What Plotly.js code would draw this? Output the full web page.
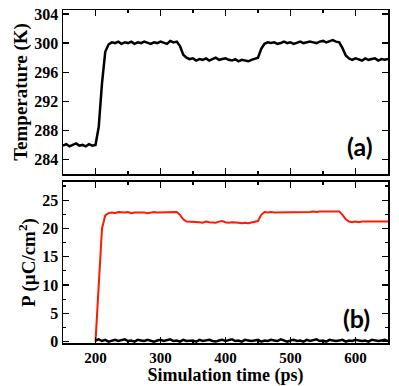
<!DOCTYPE html>
<html>
<head>
<meta charset="utf-8">
<script src="https://cdn.plot.ly/plotly-3.0.1.min.js"></script>
<style>
    html, body { margin: 0; padding: 0; background: #fff; }
    #chart { width: 399px; height: 386px; }
</style>
</head>
<body>
<div id="chart"></div>
<script>
// Simulation time (ps) for the temperature curve, one sample every 5 ps
const tempTime = [];
for (let t = 150; t <= 650; t += 5) tempTime.push(t);

// Temperature (K)
const temperature = [
    285.9, 286.1, 285.8, 286.0, 286.2, 285.9, 286.0, 285.8, 286.1, 285.9,
    286.0, 288.5, 294.5, 298.8, 299.8, 300.1,
    300.0, 300.2, 299.9, 300.1, 300.0, 300.2, 299.9, 300.1, 300.0, 300.2,
    300.0, 299.9, 300.1, 300.0, 300.2, 300.1, 299.9, 300.3, 300.1,
    300.2, 299.6, 298.4, 298.0,
    297.8, 297.9, 297.6, 297.8, 297.7, 297.9, 297.6, 297.8, 298.0, 297.7,
    297.8, 297.9, 297.7, 297.6, 297.8, 297.5, 297.7, 297.6, 297.5, 297.7, 297.8,
    298.0, 299.2, 299.9, 300.1,
    300.0, 300.1, 299.9, 300.0, 300.2, 300.0, 300.1, 299.9, 300.1, 300.2,
    300.0, 300.1, 300.2, 300.1, 300.0, 300.2, 300.3, 300.1, 300.2, 300.4, 300.2,
    300.1, 299.3, 298.3, 297.9,
    297.7, 297.9, 297.8, 297.6, 297.9, 297.7, 297.8, 297.9, 297.6, 297.8, 297.7, 297.8
];

// Simulation time (ps) for the polarization curves
const polTime = [];
for (let t = 200; t <= 650; t += 5) polTime.push(t);

// Polarization P (µC/cm²), red curve of panel (b)
const polarization = [
    0.0, 11.0, 20.0, 22.3, 22.7,
    22.8, 22.7, 22.9, 22.8, 22.8, 22.9, 22.7, 22.8, 22.8, 22.9,
    22.8, 22.7, 22.8, 22.9, 22.8, 22.8, 22.9, 22.8, 22.9, 22.8,
    22.9, 22.4, 21.6, 21.2,
    21.2, 21.1, 21.2, 21.1, 21.0, 21.2, 21.1, 21.1, 21.0, 21.2,
    21.3, 21.1, 21.0, 21.1, 21.1, 21.0, 20.9, 21.0, 20.9, 21.0, 21.1,
    21.3, 22.4, 22.9,
    22.8, 22.9, 22.8, 22.8, 22.9, 22.8, 22.9, 22.8, 22.8, 22.9,
    22.9, 22.8, 22.9, 22.9, 23.0, 22.9, 23.0, 23.0, 22.9, 23.0, 23.0, 22.9, 23.0,
    22.4, 21.6, 21.2,
    21.1, 21.2, 21.1, 21.2, 21.2, 21.1, 21.2, 21.1, 21.2, 21.2, 21.1, 21.2
];

// Other polarization component, black curve near zero
const polarizationOther = [
    0.2, 0.4, 0.1, 0.3, 0.0, 0.2, 0.3, 0.1, 0.2, 0.4,
    0.1, 0.2, 0.0, 0.3, 0.2, 0.1, 0.3, 0.2, 0.0, 0.2,
    0.3, 0.1, 0.2, 0.4, 0.1, 0.2, 0.0, 0.3, 0.1, 0.2,
    0.2, 0.0, 0.3, 0.1, 0.2, 0.3, 0.1, 0.0, 0.2, 0.3,
    0.1, 0.2, 0.4, 0.1, 0.2, 0.0, 0.3, 0.2, 0.1, 0.2,
    0.3, 0.0, 0.2, 0.1, 0.3, 0.2, 0.1, 0.4, 0.2, 0.0,
    0.2, 0.3, 0.1, 0.2, 0.0, 0.3, 0.1, 0.2, 0.4, 0.1,
    0.2, 0.0, 0.3, 0.2, 0.1, 0.2, 0.3, 0.0, 0.2, 0.1,
    0.3, 0.2, 0.1, 0.2, 0.0, 0.3, 0.2, 0.1, 0.2, 0.3,
    0.1
];

const tempTicks = [284, 288, 292, 296, 300, 304];
const polTicks = [0, 5, 10, 15, 20, 25];
const timeTicks = [200, 300, 400, 500, 600];

/**
 * Draws the two stacked panels
 */
function drawChart() {
    const serif = { family: 'Liberation Serif, Times New Roman, serif', color: '#000', weight: 'bold' };

    const traces = [
        {
            x: tempTime,
            y: temperature,
            mode: 'lines',
            line: { color: '#000', width: 2.5 },
            xaxis: 'x',
            yaxis: 'y',
            showlegend: false
        },
        {
            x: polTime,
            y: polarization,
            mode: 'lines',
            line: { color: '#ff1a00', width: 2 },
            xaxis: 'x2',
            yaxis: 'y2',
            showlegend: false
        },
        {
            x: polTime,
            y: polarizationOther,
            mode: 'lines',
            line: { color: '#000', width: 2.5 },
            xaxis: 'x2',
            yaxis: 'y2',
            showlegend: false
        }
    ];

    // Common frame style: box with inside ticks on every side
    const frame = {
        showline: true,
        linecolor: '#000',
        linewidth: 1.5,
        mirror: 'ticks',
        ticks: 'inside',
        ticklen: 6,
        tickwidth: 1.2,
        tickcolor: '#000',
        showgrid: false,
        zeroline: false,
        tickfont: Object.assign({ size: 16 }, serif)
    };

    const layout = {
        width: 399,
        height: 386,
        margin: { l: 63, r: 11, t: 10, b: 43 },
        paper_bgcolor: '#fff',
        plot_bgcolor: '#fff',
        xaxis: Object.assign({}, frame, {
            domain: [0, 1],
            anchor: 'y',
            range: [150, 650],
            tickvals: timeTicks,
            showticklabels: false,
            minor: { ticks: 'inside', ticklen: 3, dtick: 50, tick0: 150, tickcolor: '#000' }
        }),
        yaxis: Object.assign({}, frame, {
            domain: [0.5075, 1],
            anchor: 'x',
            range: [282, 304.55],
            tickvals: tempTicks,
            title: { text: 'Temperature (K)', font: Object.assign({ size: 19 }, serif), standoff: 1 }
        }),
        xaxis2: Object.assign({}, frame, {
            domain: [0, 1],
            anchor: 'y2',
            range: [150, 650],
            tickvals: timeTicks,
            tickfont: Object.assign({ size: 15 }, serif),
            minor: { ticks: 'inside', ticklen: 3, dtick: 50, tick0: 150, tickcolor: '#000' },
            title: { text: 'Simulation time (ps)', font: Object.assign({ size: 18 }, serif), standoff: 0 }
        }),
        yaxis2: Object.assign({}, frame, {
            domain: [0, 0.4835],
            anchor: 'x2',
            range: [-0.25, 28.2],
            tickvals: polTicks,
            minor: { ticks: 'inside', ticklen: 3, dtick: 2.5, tick0: 0, tickcolor: '#000' },
            title: { text: 'P (µC/cm<sup>2</sup>)', font: Object.assign({ size: 19 }, serif), standoff: 1 }
        }),
        annotations: [
            {
                text: '(a)',
                xref: 'x domain', yref: 'y domain',
                x: 0.96, y: 0.07,
                xanchor: 'right', yanchor: 'bottom',
                showarrow: false,
                font: { family: 'Lato, Open Sans, sans-serif', size: 25, color: '#000', weight: 'bold' }
            },
            {
                text: '(b)',
                xref: 'x2 domain', yref: 'y2 domain',
                x: 0.951, y: 0.05,
                xanchor: 'right', yanchor: 'bottom',
                showarrow: false,
                font: { family: 'Lato, Open Sans, sans-serif', size: 25, color: '#000', weight: 'bold' }
            }
        ]
    };

    Plotly.newPlot('chart', traces, layout, { displayModeBar: false, staticPlot: true });
}

drawChart();
</script>
</body>
</html>
